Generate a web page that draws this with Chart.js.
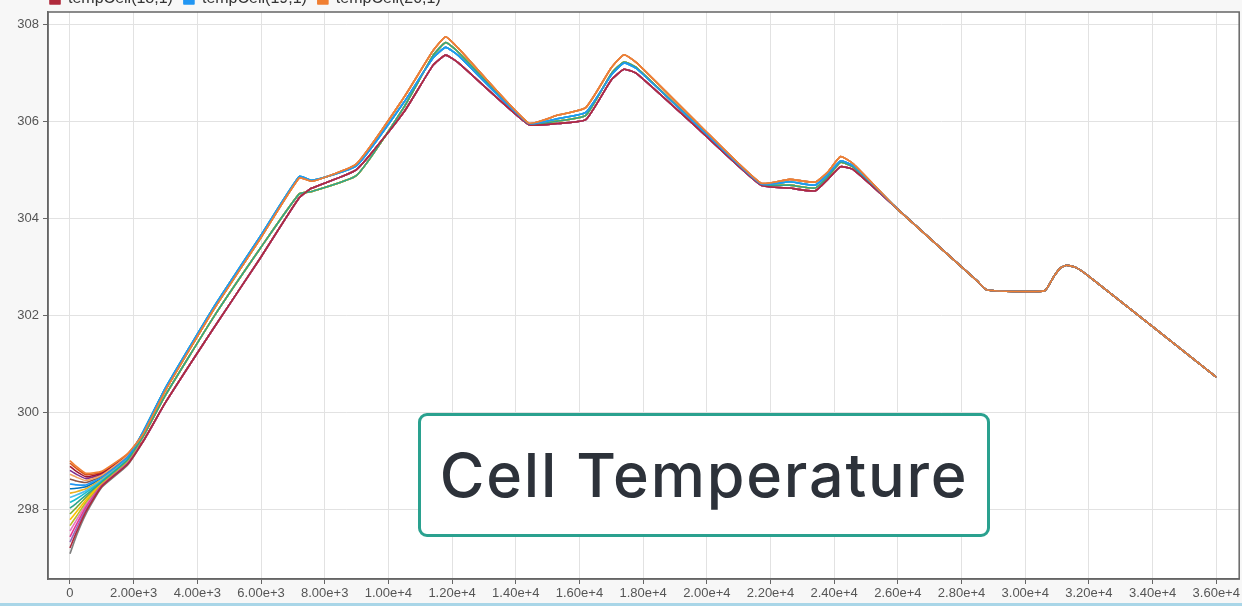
<!DOCTYPE html>
<html>
<head>
<meta charset="utf-8">
<title>Cell Temperature</title>
<script src="https://cdn.jsdelivr.net/npm/chart.js@4.4.1/dist/chart.umd.min.js"></script>
<style>
  html, body { margin: 0; padding: 0; background: #f7f7f7; }
  #wrap { position: relative; width: 1242px; height: 606px; overflow: hidden; }
  #chart { position: absolute; left: 0; top: -20px; }
  #label {
    position: absolute; left: 418px; top: 413px; width: 566px; height: 118px;
    border: 3px solid #2aa18f; border-radius: 9px; background: #fff;
    display: flex; align-items: center; justify-content: center;
    font-family: Inter, "Open Sans", sans-serif; font-weight: 500; font-size: 61px;
    letter-spacing: 1.8px; color: #2d323a;
  }
  #strip { position: absolute; left: 0; bottom: 0; width: 100%; height: 3px; background: #a9d6e8; }
</style>
</head>
<body>
<div id="wrap">
  <canvas id="chart" width="1242" height="626"></canvas>
  <div id="label">Cell Temperature</div>
  <div id="strip"></div>
</div>
<script>
// x positions (s)
const headX = [0, 200, 500, 1000, 1800];
const midX = [2300, 3000, 4500, 6000, 7200, 7600, 9000, 10500, 11400, 11800, 12200, 14400,
              15300, 16200, 17000, 17400, 17800, 19800, 21700, 22600, 23400, 23800, 24200, 24600];
const tailX = [26000, 28500, 28800, 30600, 30900, 31100, 31300, 31600, 32000, 36000];

// start of each cell (the fan near t=0), tempCell(1,1) .. tempCell(20,1)
const heads = [
  [298.42, 298.43, 298.46, 298.64, 299.06],
  [298.95, 298.84, 298.71, 298.76, 299.13],
  [298.33, 298.36, 298.42, 298.62, 299.05],
  [298.80, 298.72, 298.63, 298.72, 299.11],
  [297.90, 298.03, 298.24, 298.55, 299.00],
  [298.24, 298.29, 298.38, 298.60, 299.04],
  [298.88, 298.78, 298.67, 298.74, 299.12],
  [297.55, 297.77, 298.09, 298.51, 298.96],
  [298.62, 298.58, 298.55, 298.68, 299.08],
  [297.08, 297.45, 297.90, 298.45, 298.90],
  [297.66, 297.85, 298.14, 298.52, 298.98],
  [298.14, 298.21, 298.34, 298.58, 299.02],
  [297.43, 297.68, 298.04, 298.50, 298.95],
  [298.72, 298.66, 298.59, 298.70, 299.10],
  [297.78, 297.94, 298.19, 298.54, 298.99],
  [297.32, 297.60, 297.99, 298.48, 298.94],
  [298.02, 298.12, 298.29, 298.56, 299.01],
  [297.20, 297.52, 297.95, 298.47, 298.92],
  [298.52, 298.50, 298.50, 298.66, 299.07],
  [299.00, 298.88, 298.74, 298.78, 299.14]
];

// middle part, cells move in a few bundles
const groupA = [299.55, 300.45, 302.10, 303.60, 304.83, 304.76, 305.12, 306.50, 307.45, 307.74, 307.50, 305.96,
                306.12, 306.28, 307.10, 307.37, 307.20, 305.90, 304.72, 304.80, 304.74, 304.95, 305.27, 305.12];
const groupB = [299.60, 300.50, 302.15, 303.65, 304.86, 304.78, 305.08, 306.40, 307.30, 307.52, 307.35, 305.95,
                306.05, 306.18, 306.95, 307.20, 307.08, 305.85, 304.70, 304.75, 304.68, 304.90, 305.18, 305.08];
const groupC = [299.50, 300.35, 301.95, 303.40, 304.50, 304.55, 304.88, 306.30, 307.35, 307.62, 307.42, 305.94,
                306.00, 306.12, 306.98, 307.22, 307.10, 305.85, 304.70, 304.68, 304.62, 304.85, 305.15, 305.05];
const groupD = [299.40, 300.20, 301.72, 303.20, 304.42, 304.62, 305.00, 306.20, 307.15, 307.36, 307.20, 305.93,
                305.95, 306.03, 306.85, 307.07, 306.98, 305.80, 304.68, 304.62, 304.56, 304.80, 305.06, 305.00];

// all cells end together
const tail = [304.18, 302.70, 302.52, 302.50, 302.80, 302.97, 303.03, 302.98, 302.80, 300.72];

const cellGroup = ['B','A','C','D','C','B','D','C','A','D','C','B','D','A','C','D','C','D','B','A'];
const cellColors = ['#0072bd', '#d95319', '#edb120', '#7e2f8e', '#77ac30', '#4dbeee', '#a2142f', '#e377c2',
                    '#8c564b', '#7f7f7f', '#bcbd22', '#17becf', '#e8368f', '#f4a261', '#ffbf00', '#9467bd',
                    '#2ca58d', '#b02a3c', '#2196f3', '#f07f32'];

const yTicks = [298, 300, 302, 304, 306, 308];
const xTicks = [0, 2000, 4000, 6000, 8000, 10000, 12000, 14000, 16000, 18000, 20000, 22000,
                24000, 26000, 28000, 30000, 32000, 34000, 36000];

const groups = { A: groupA, B: groupB, C: groupC, D: groupD };
const allX = headX.concat(midX, tailX);

const datasets = heads.map((h, i) => {
  const ys = h.concat(groups[cellGroup[i]], tail);
  return {
    label: 'tempCell(' + (i + 1) + ',1)',
    data: allX.map((x, k) => ({ x: x, y: ys[k] })),
    borderColor: cellColors[i],
    backgroundColor: cellColors[i],
    borderWidth: 1.6,
    borderJoinStyle: 'round',
    pointRadius: 0,
    tension: 0.15,
    order: heads.length - 1 - i
  };
});

// white plot area + box around it
const frame = {
  id: 'frame',
  beforeDraw(chart) {
    const a = chart.chartArea, ctx = chart.ctx;
    ctx.save();
    ctx.fillStyle = '#fff';
    ctx.fillRect(a.left, a.top, a.right - a.left, a.bottom - a.top);
    ctx.restore();
  },
  afterDraw(chart) {
    const a = chart.chartArea, ctx = chart.ctx;
    ctx.save();
    ctx.strokeStyle = '#666';
    ctx.lineWidth = 1.5;
    ctx.strokeRect(a.left, a.top, a.right - a.left, a.bottom - a.top);
    ctx.restore();
  },
  afterLayout(chart) {
    chart.legend.left -= 9;
    chart.legend.right -= 9;
  }
};

const fmt = v => v === 0 ? '0' : v.toExponential(2);

new Chart(document.getElementById('chart'), {
  type: 'line',
  data: { datasets },
  options: {
    responsive: false,
    animation: false,
    layout: { padding: { left: 0, right: 2, top: 0, bottom: 0 } },
    plugins: {
      legend: {
        position: 'top',
        align: 'start',
        fullSize: false,
        maxHeight: 32,
        labels: {
          boxWidth: 10, boxHeight: 10, padding: 11, color: '#333',
          font: { family: 'Liberation Sans, Arial, sans-serif', size: 16 },
          filter: item => item.datasetIndex >= 17,
          sort: (a, b) => a.datasetIndex - b.datasetIndex
        }
      },
      tooltip: { enabled: false }
    },
    scales: {
      x: {
        type: 'linear',
        min: -690, max: 36720,
        afterBuildTicks: s => { s.ticks = xTicks.map(v => ({ value: v })); },
        afterFit: s => { s.height = 27; },
        grid: { color: '#e2e2e2', tickColor: '#666', tickLength: 5 },
        border: { color: '#666', width: 1.5 },
        ticks: { color: '#555', padding: 2, maxRotation: 0, autoSkip: false,
                 font: { family: 'Liberation Sans, Arial, sans-serif', size: 13 }, callback: fmt }
      },
      y: {
        min: 296.56, max: 308.25,
        afterBuildTicks: s => { s.ticks = yTicks.map(v => ({ value: v })); },
        afterFit: s => { s.width = 48; },
        grid: { color: '#e2e2e2', tickColor: '#666', tickLength: 5 },
        border: { color: '#666', width: 1.5 },
        ticks: { color: '#555', padding: 4,
                 font: { family: 'Liberation Sans, Arial, sans-serif', size: 13 } }
      }
    }
  },
  plugins: [frame]
});
</script>
</body>
</html>
